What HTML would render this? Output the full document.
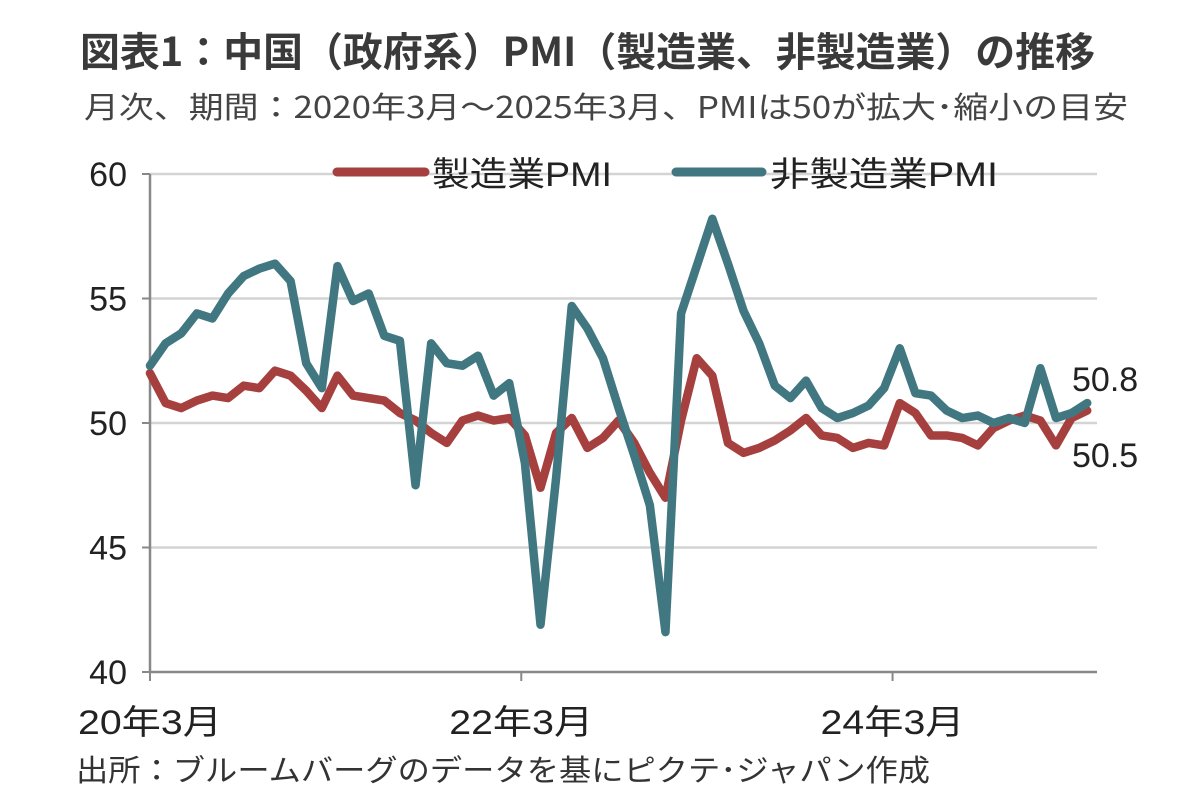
<!DOCTYPE html>
<html><head><meta charset="utf-8"><style>
body{margin:0;background:#fff;width:1182px;height:802px;overflow:hidden;font-family:"Liberation Sans","Noto Sans CJK JP",sans-serif;color:#222}
svg text{font-family:"Liberation Sans","Noto Sans CJK JP",sans-serif}
</style></head><body>
<svg width="1182" height="802">
<text x="80" y="66" font-size="40" font-weight="bold" fill="#3a3a3a" textLength="1015" lengthAdjust="spacingAndGlyphs" style="font-family:'Noto Sans CJK JP',sans-serif">図表1：中国（政府系）PMI（製造業、非製造業）の推移</text>
<text x="84" y="118" font-size="30" fill="#444" textLength="1044" lengthAdjust="spacingAndGlyphs" style="font-family:'Noto Sans CJK JP',sans-serif">月次、期間：2020年3月～2025年3月、PMIは50が拡大･縮小の目安</text>
<g id="grid"></g><g id="lines"></g>
<g>
<line x1="337" y1="172" x2="425" y2="172" stroke="#a5403f" stroke-width="9" stroke-linecap="round"/>
<text x="432" y="186" font-size="34" fill="#222" textLength="180" lengthAdjust="spacingAndGlyphs">製造業PMI</text>
<line x1="676" y1="172" x2="762" y2="172" stroke="#417780" stroke-width="9" stroke-linecap="round"/>
<text x="770" y="186" font-size="34" fill="#222" textLength="228" lengthAdjust="spacingAndGlyphs">非製造業PMI</text>
</g>
<text x="1072" y="391" font-size="34" fill="#222">50.8</text>
<text x="1072" y="467" font-size="34" fill="#222">50.5</text>
<text x="76" y="781" font-size="30" fill="#333" textLength="854" lengthAdjust="spacingAndGlyphs">出所：ブルームバーグのデータを基にピクテ･ジャパン作成</text>
</svg>
<script>
const mfg=[52.0,50.8,50.6,50.9,51.1,51.0,51.5,51.4,52.1,51.9,
51.3,50.6,51.9,51.1,51.0,50.9,50.4,50.1,49.6,49.2,50.1,50.3,
50.1,50.2,49.5,47.4,49.6,50.2,49.0,49.4,50.1,49.2,48.0,47.0,
50.1,52.6,51.9,49.2,48.8,49.0,49.3,49.7,50.2,49.5,49.4,49.0,
49.2,49.1,50.8,50.4,49.5,49.5,49.4,49.1,49.8,50.1,50.3,50.1,
49.1,50.2,50.5];
const nonMfg=[52.3,53.2,53.6,54.4,54.2,55.2,55.9,56.2,56.4,55.7,
52.4,51.4,56.3,54.9,55.2,53.5,53.3,47.5,53.2,52.4,52.3,52.7,
51.1,51.6,48.4,41.9,47.8,54.7,53.8,52.6,50.6,48.7,46.7,41.6,
54.4,56.3,58.2,56.4,54.5,53.2,51.5,51.0,51.7,50.6,50.2,50.4,
50.7,51.4,53.0,51.2,51.1,50.5,50.2,50.3,50.0,50.2,50.0,52.2,
50.2,50.4,50.8];
const yTicks=[40,45,50,55,60];
const xTickIdx=[0,24,48];
const xTickLabels=["20年3月","22年3月","24年3月"];
const NS="http://www.w3.org/2000/svg";
const x=i=>150+i*15.62, y=v=>672-(v-40)*24.9;
const grid=document.getElementById('grid'), lines=document.getElementById('lines');
function mk(tag,attrs,parent){const e=document.createElementNS(NS,tag);for(const k in attrs)e.setAttribute(k,attrs[k]);parent.appendChild(e);return e;}
yTicks.forEach(v=>{
 if(v>40){const g=mk('line',{x1:150,x2:1097,y1:y(v),y2:y(v),stroke:'#d4d4d4','stroke-width':2.5},grid);
 
 }
 const tk=mk('line',{x1:142,x2:150,y1:y(v),y2:y(v),stroke:'#888','stroke-width':2},grid);
 
 
 const t=mk('text',{x:127,y:y(v)+12,'font-size':34,'text-anchor':'end',fill:'#222'},grid);t.textContent=v;
 
 
});
const ax=mk('line',{x1:150,x2:150,y1:y(60),y2:y(40),stroke:'#888','stroke-width':2.5},grid);


const bx=mk('line',{x1:150,x2:1097,y1:y(40),y2:y(40),stroke:'#888','stroke-width':2.5},grid);


xTickIdx.forEach((idx,k)=>{
 const tk=mk('line',{x1:x(idx)-idx*0.15,x2:x(idx)-idx*0.15,y1:y(40),y2:y(40)+9,stroke:'#888','stroke-width':2},grid);
 
 
 const t=mk('text',{x:x(idx)-idx*0.15,y:y(40)+62,'font-size':34,'text-anchor':'middle',fill:'#222',textLength:144,lengthAdjust:'spacingAndGlyphs'},grid);t.textContent=xTickLabels[k];
 
 
});
function series(data,color,name){
 const p=mk('polyline',{points:data.map((v,i)=>x(i)+','+y(v)).join(' '),fill:'none',stroke:color,'stroke-width':8.5,'stroke-linejoin':'round','stroke-linecap':'round'},lines);
 
 
}
series(mfg,'#a5403f','manufacturing-pmi-line');
series(nonMfg,'#417780','nonmanufacturing-pmi-line');
</script>
</body></html>
